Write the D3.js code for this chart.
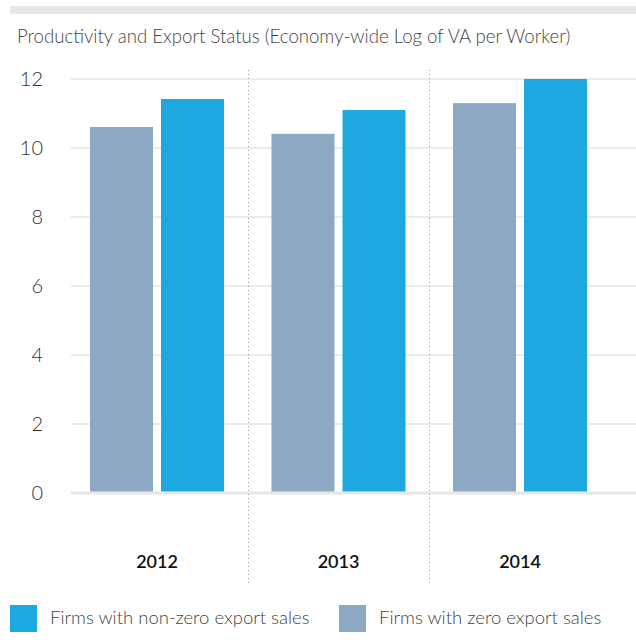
<!DOCTYPE html>
<html>
<head>
<meta charset="utf-8">
<script src="https://cdn.jsdelivr.net/npm/d3@7"></script>
<style>
	body { margin: 0; background: #fff; }
	text { font-family: Lato, "Open Sans", sans-serif; }
</style>
</head>
<body>
<svg id="chart"></svg>
<script>
'use strict'

var years = ['2012', '2013', '2014'];
var seriesKeys = ['zero', 'nonzero'];
var seriesNames = ['Firms with zero export sales', 'Firms with non-zero export sales'];
var zeroExport = [10.61, 10.41, 11.30];
var nonZeroExport = [11.42, 11.10, 12.0];
var yTicks = [0, 2, 4, 6, 8, 10, 12];
var legendOrder = ['nonzero', 'zero'];

var WIDTH = 636,
	HEIGHT = 640;

var colors = {
	zero: '#8ca8c2',
	nonzero: '#1ea8e0'
};

var svg = d3.select('#chart')
	.attr('width', WIDTH)
	.attr('height', HEIGHT);

// grey strip at the very top
svg.append('rect')
	.attr('x', 10)
	.attr('y', 6)
	.attr('width', WIDTH - 10)
	.attr('height', 8)
	.style('fill', '#e6e7e8');

svg.append('text')
	.attr('x', 17)
	.attr('y', 43)
	.style('font-size', '18.6px')
	.style('font-weight', 300)
	.style('fill', '#444')
	.text('Productivity and Export Status (Economy-wide Log of VA per Worker)');

var y = d3.scaleLinear()
	.domain([0, 12])
	.range([493, 79]);

var x = d3.scaleBand()
	.domain(years)
	.range([66.25, 610.75]);

var barPad = 23.75;
var xs = d3.scaleBand()
	.domain(seriesKeys)
	.range([barPad, x.bandwidth() - barPad])
	.paddingInner(8 / 71);

// grid
svg.append('g')
	.selectAll('line')
	.data(yTicks)
	.enter()
	.append('line')
	.attr('x1', 71)
	.attr('x2', WIDTH)
	.attr('y1', function (d) { return y(d); })
	.attr('y2', function (d) { return y(d); })
	.style('stroke', '#e6e6e6')
	.style('stroke-width', function (d) { return d === 0 ? 3 : 1.5; });

var yAxis = svg.append('g')
	.attr('transform', 'translate(43,0)')
	.call(d3.axisLeft(y).tickValues(yTicks).tickSize(0).tickPadding(0));
yAxis.select('.domain').remove();
yAxis.selectAll('text')
	.style('font-family', 'Lato, sans-serif')
	.style('font-size', '20px')
	.style('font-weight', 300)
	.style('fill', '#333');

// dotted separators between years
svg.append('g')
	.selectAll('line')
	.data(years.slice(1))
	.enter()
	.append('line')
	.attr('x1', function (d) { return Math.round(x(d)) + 0.5; })
	.attr('x2', function (d) { return Math.round(x(d)) + 0.5; })
	.attr('y1', 70)
	.attr('y2', 586)
	.style('stroke', '#999')
	.style('stroke-width', 1)
	.style('stroke-dasharray', '1,3');

var rows = years.map(function (yr, i) {
	return { year: yr, zero: zeroExport[i], nonzero: nonZeroExport[i] };
});

var groups = svg.append('g')
	.selectAll('g')
	.data(rows)
	.enter()
	.append('g')
	.attr('transform', function (d) { return 'translate(' + x(d.year) + ',0)'; });

groups.selectAll('rect')
	.data(function (d) {
		return seriesKeys.map(function (k) { return { key: k, value: d[k] }; });
	})
	.enter()
	.append('rect')
	.attr('x', function (d) { return xs(d.key); })
	.attr('width', xs.bandwidth())
	.attr('y', function (d) { return y(d.value); })
	.attr('height', function (d) { return y(0) - y(d.value) - 1.5; })
	.style('fill', function (d) { return colors[d.key]; });

// year labels
var xAxis = svg.append('g')
	.attr('transform', 'translate(0,568)')
	.call(d3.axisBottom(x).tickSize(0).tickPadding(0));
xAxis.select('.domain').remove();
xAxis.selectAll('text')
	.attr('dy', 0)
	.style('font-family', 'Lato, sans-serif')
	.style('font-size', '18px')
	.style('font-weight', 600)
	.style('fill', '#111');

// legend
var legendX = [10, 339];
var legend = svg.append('g')
	.selectAll('g')
	.data(legendOrder)
	.enter()
	.append('g')
	.attr('transform', function (d, i) { return 'translate(' + legendX[i] + ',605)'; });

legend.append('rect')
	.attr('width', 27)
	.attr('height', 27)
	.style('fill', function (d) { return colors[d]; });

legend.append('text')
	.attr('x', 40)
	.attr('y', 19)
	.style('font-size', '18.5px')
	.style('font-weight', 300)
	.style('fill', '#444')
	.text(function (d) { return seriesNames[seriesKeys.indexOf(d)]; });
</script>
</body>
</html>
